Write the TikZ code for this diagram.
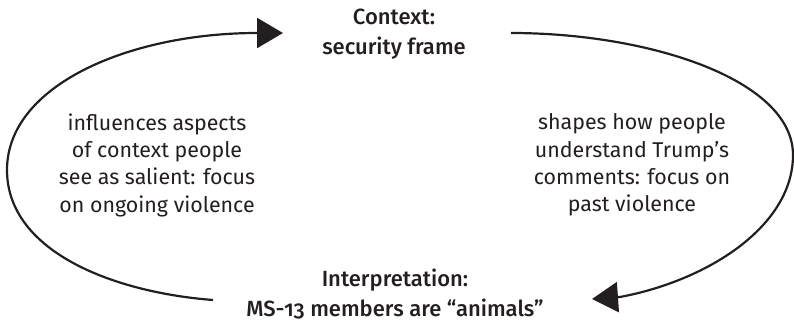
\documentclass[tikz,border=0pt]{standalone}
\usepackage{fontspec}
\setmainfont{Fira Sans}[Numbers=OldStyle]
\newfontfamily\headfont{Fira Sans Medium}[Numbers=OldStyle]
\usetikzlibrary{arrows.meta}
\definecolor{ink}{HTML}{231F20}
\tikzset{
  heading/.style={align=center, text=ink, font=\headfont\fontsize{22}{30}\selectfont},
  caption/.style={align=center, text=ink, font=\fontsize{21.4}{27.3}\selectfont},
  cycle/.style={draw=ink, line width=2.2pt, -{Triangle[length=26pt,width=30pt]}}
}
\begin{document}
\begin{tikzpicture}[x=1pt,y=-1pt]
  \useasboundingbox (0,0) rectangle (794,322);

  % the two stages of the cycle
  \node[heading] (ctx) at (394,34) {Context:\\security frame};
  \node[heading] (interp) at (395,294) {Interpretation:\\MS-13 members are “animals”};

  % explanations along each side
  \node[caption] (left) at (157,165) {influences aspects\\of context people\\see as salient: focus\\on ongoing violence};
  \node[caption] (right) at (632,165) {shapes how people\\understand Trump’s\\comments: focus on\\past violence};

  % end points of the connectors
  \coordinate (ls) at (213,300);
  \coordinate (lm) at (7,170);
  \coordinate (lb) at (257,33);
  \coordinate (le) at (283,33);
  \coordinate (rs) at (511,33);
  \coordinate (rm) at (793,155);
  \coordinate (rb) at (620,297);
  \coordinate (re) at (592,299);

  % interpretation feeds back into context (left)
  \draw[cycle] (ls) .. controls (110,292) and (7,250) .. (lm)
                    .. controls (7,85) and (130,33) .. (lb) -- (le);

  % context shapes interpretation (right)
  \draw[cycle] (rs) .. controls (650,33) and (793,80) .. (rm)
                    .. controls (793,225) and (710,280) .. (rb) -- (re);
\end{tikzpicture}
\end{document}
